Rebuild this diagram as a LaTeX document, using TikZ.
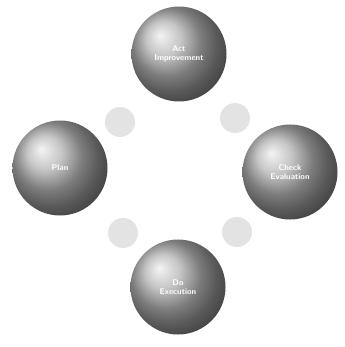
\documentclass[tikz,border=0pt]{standalone}
\usepackage{tikz}
\usetikzlibrary{calc}

\tikzset{
  bigball/.style={circle, minimum size=2.85cm, inner sep=0pt, ball color=gray!60,
    text=white, font=\scriptsize\bfseries\sffamily, align=center},
  smalldot/.style={circle, minimum size=0.9cm, inner sep=0pt, fill=gray!22}
}

\begin{document}
\begin{tikzpicture}[x=0.03cm, y=-0.03cm]
            % Frame of the picture
            \useasboundingbox (0,0) rectangle (344,347);
            
            % Draw the four big spheres
            \node[bigball] (top) at (179,54) {Act\\Improvement};
            \node[bigball] (left) at (60,168) {Plan};
            \node[bigball] (right) at (290,172) {Check\\Evaluation};
            \node[bigball] (bottom) at (178,287) {Do\\Execution};
            
            % Draw the small light circles in between
            \node[smalldot] (tl) at (120,122) {};
            \node[smalldot] (tr) at (235,118) {};
            \node[smalldot] (bl) at (123,233) {};
            \node[smalldot] (br) at (237,232) {};
        \end{tikzpicture}
\end{document}
